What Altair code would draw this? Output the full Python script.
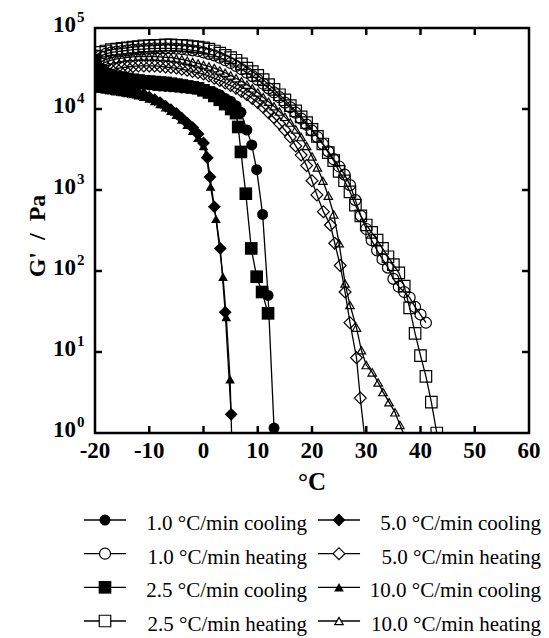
import altair as alt
import pandas as pd

# ---------------- data ----------------
SERIES = ["1.0 °C/min cooling", "1.0 °C/min heating", "2.5 °C/min cooling", "2.5 °C/min heating",
          "5.0 °C/min cooling", "5.0 °C/min heating", "10.0 °C/min cooling", "10.0 °C/min heating"]

T_1c = [-20, -19, -18, -17, -16, -15, -14, -13, -12, -11, -10, -9, -8, -7, -6, -5, -4, -3, -2, -1,
        0, 1, 2, 3, 4, 5, 6, 6.9, 8.0, 8.9, 9.8, 10.9, 11.9, 13.0]
G_1c = [24000, 23000, 22500, 22000, 21500, 21000, 20800, 20500, 20200, 20000,
        19800, 19500, 19200, 19000, 18800, 18500, 18200, 18000, 17800, 17500,
        17000, 16500, 16000, 15000, 13500, 12500, 11000, 9100, 5500, 3600, 1780, 500, 50, 1.15]

T_1h = [-20, -19, -18, -17, -16, -15, -14, -13, -12, -11, -10, -9, -8, -7, -6, -5, -4, -3, -2, -1,
        0, 1, 2, 3, 4, 5, 6, 7, 8, 9, 10, 11, 12, 13, 14, 15, 16, 17, 18, 19,
        20, 21, 22, 23, 24, 25, 26, 27, 28, 29, 30, 31, 32, 33, 34, 35, 36, 37, 38, 39, 40, 41]
G_1h = [40000, 45000, 48000, 50000, 51000, 52000, 53000, 54000, 54500, 55000,
        55500, 56000, 56000, 56000, 56000, 55500, 55000, 54000, 53000, 52000,
        50000, 48000, 46000, 43000, 40000, 37000, 34000, 31000, 28000, 25500,
        23000, 20500, 18000, 16000, 14000, 12000, 10500, 9000, 7600, 6400,
        5400, 4500, 3700, 3000, 2400, 1950, 1550, 1150, 750, 480,
        330, 240, 180, 140, 110, 80, 64, 55, 47, 36, 29, 23]

T_2c = [-20, -19, -18, -17, -16, -15, -14, -13, -12, -11, -10, -9, -8, -7, -6, -5, -4, -3, -2, -1,
        0, 1, 2, 3, 4, 5.1, 6.0, 6.4, 6.9, 7.8, 8.8, 9.8, 10.8, 11.9]
G_2c = [40000, 30000, 27000, 25500, 24500, 24000, 23500, 23000, 22500, 22000,
        21800, 21500, 21200, 21000, 20500, 20000, 19500, 19000, 18500, 18000,
        17000, 16000, 14500, 13000, 11500, 10000, 8900, 6000, 2950, 900, 190, 85, 55, 30]

T_2h = [-20, -19, -18, -17, -16, -15, -14, -13, -12, -11, -10, -9, -8, -7, -6, -5, -4, -3, -2, -1,
        0, 1, 2, 3, 4, 5, 6, 7, 8, 9, 10, 11, 12, 13, 14, 15, 16, 17, 18, 19,
        20, 21, 22, 23, 24, 25, 26, 27, 28, 29, 30, 31, 32, 33, 34, 35, 36, 37, 38, 39,
        40, 41, 42, 43]
G_2h = [45000, 50000, 52000, 54000, 55000, 56000, 57000, 58000, 59000, 60000,
        60000, 61000, 61000, 62000, 62000, 61000, 61000, 60000, 59000, 58000,
        57000, 55000, 52000, 49000, 46000, 43000, 40000, 36000, 32000, 29000,
        26000, 23000, 20000, 17500, 15000, 13000, 11000, 9500, 8000, 6800,
        5600, 4600, 3700, 2900, 2300, 1700, 1300, 950, 650, 480,
        370, 300, 240, 190, 150, 120, 95, 65, 35, 17,
        9, 5, 2.4, 1.0]

T_5c = [-20, -19, -18, -17, -16, -15, -14, -13, -12, -11, -10, -9, -8, -7, -6, -5, -4, -3, -2, -1,
        0, 0.7, 1.2, 2.0, 3.1, 4.0, 5.1]
G_5c = [19000, 18500, 18000, 17500, 17200, 16800, 16400, 16000, 15500, 15000,
        14000, 13000, 12000, 10800, 9800, 8800, 7700, 6700, 5900, 4900,
        3800, 2500, 1450, 620, 190, 31, 1.7]

T_5h = [-20, -19, -18, -17, -16, -15, -14, -13, -12, -11, -10, -9, -8, -7, -6, -5, -4, -3, -2, -1,
        0, 1, 2, 3, 4, 5, 6, 7, 8, 9, 10, 11, 12, 13, 14, 15, 16, 17, 18, 19,
        20, 20.9, 22.1, 23.4, 24.2, 25.2, 26.1, 27.0, 28.2, 28.9, 30.0]
G_5h = [24000, 27000, 29000, 30500, 31500, 32500, 33000, 33500, 34000, 34000,
        34000, 34000, 33500, 33000, 32500, 32000, 31000, 30000, 29000, 28000,
        27000, 25500, 24000, 22500, 21000, 19500, 18000, 16500, 15000, 13500,
        12000, 10500, 9000, 7800, 6600, 5500, 4500, 3500, 2700, 2000,
        1300, 870, 540, 370, 220, 117, 55, 23, 8.5, 2.7, 0.6]

T_10c = [-20, -19, -18, -17, -16, -15, -14, -13, -12, -11, -10, -9, -8, -7, -6, -5, -4, -3, -2, -1,
         0, 0.5, 1.3, 2.3, 3.6, 4.2, 4.9, 5.3]
G_10c = [18000, 17800, 17400, 17000, 16600, 16200, 15800, 15300, 14800, 14200,
         13500, 12500, 11500, 10500, 9500, 8500, 7400, 6400, 5400, 4400,
         3500, 2800, 1100, 440, 85, 27, 4.6, 0.5]

T_10h = [-20, -19, -18, -17, -16, -15, -14, -13, -12, -11, -10, -9, -8, -7, -6, -5, -4, -3, -2, -1,
         0, 1, 2, 3, 4, 5, 6, 7, 8, 9, 10, 11, 12, 13, 14, 15, 16, 17, 18, 19,
         20, 21, 22, 23, 24, 25, 26.1, 27.0, 28.2, 29.1, 30.0, 31.1, 32.2, 33.1, 34.2, 35.3, 36.2, 37.3]
G_10h = [30000, 35000, 38000, 40000, 41500, 42500, 43500, 44000, 44500, 44500,
         44500, 44500, 44000, 43500, 43000, 42000, 41000, 39500, 38000, 36500,
         35000, 33500, 32000, 30000, 28000, 26000, 24000, 22000, 20000, 18000,
         16000, 14000, 12300, 10800, 9300, 8000, 6800, 5600, 4500, 3500,
         2600, 1900, 1300, 850, 500, 220, 70, 38, 20, 10.5, 6.9, 5.6, 4.2, 3.2, 2.4, 1.8, 1.26, 0.85]

X_TICKS = [-20, -10, 0, 10, 20, 30, 40, 50, 60]
X_LABELS = ["-20", "-10", "0", "10", "20", "30", "40", "50", "60"]
Y_TICKS = [1, 10, 100, 1000, 10000, 100000]
Y_BASE = ["10", "10", "10", "10", "10", "10"]
Y_EXP = ["0", "1", "2", "3", "4", "5"]
X_TITLE = "°C"
Y_TITLE = "G'\u2002/\u2002Pa"

LEG_COL = [0, 0, 0, 0, 1, 1, 1, 1]
LEG_ROW = [0, 1, 2, 3, 0, 1, 2, 3]

# ---------------- styles ----------------
SHAPES = ["circle", "circle", "square", "square", "diamond", "diamond", "triangle-up", "triangle-up"]
FILLED = [True, False, True, False, True, False, True, False]
SIZES = [121, 121, 160, 132, 165, 140, 95, 72]

FONT = "Liberation Serif"
W, H = 434, 405

T_ALL = [T_1c, T_1h, T_2c, T_2h, T_5c, T_5h, T_10c, T_10h]
G_ALL = [G_1c, G_1h, G_2c, G_2h, G_5c, G_5h, G_10c, G_10h]
frames = [pd.DataFrame({"series": n, "T": t, "G": g}) for n, t, g in zip(SERIES, T_ALL, G_ALL)]
df = pd.concat(frames, ignore_index=True)

xsc = alt.Scale(domain=[-20, 60], nice=False, zero=False)
ysc = alt.Scale(type="log", domain=[1, 100000], nice=False)
X = alt.X("T:Q", scale=xsc, axis=None)
Y = alt.Y("G:Q", scale=ysc, axis=None)

lines = alt.Chart(df).mark_line(color="black", strokeWidth=1.3, clip=True).encode(
    x=X, y=Y, detail="series:N", order="T:Q")

pts = []
for name, shp, fl, sz in zip(SERIES, SHAPES, FILLED, SIZES):
    pts.append(
        alt.Chart(df).transform_filter(alt.datum.series == name).mark_point(
            shape=shp, size=sz, filled=fl, color="black", strokeWidth=1.2,
            opacity=1, clip=True).encode(x=X, y=Y))

xt = pd.DataFrame({"T": X_TICKS[1:-1]})
yt = pd.DataFrame({"G": Y_TICKS[1:-1]})
tick_style = dict(color="black", strokeWidth=2.5)
xtick_top = alt.Chart(xt).mark_rule(**tick_style).encode(x=X, y=alt.value(0), y2=alt.value(7))
xtick_bot = alt.Chart(xt).mark_rule(**tick_style).encode(x=X, y=alt.value(H), y2=alt.value(H - 7))
ytick_l = alt.Chart(yt).mark_rule(**tick_style).encode(y=Y, x=alt.value(0), x2=alt.value(7))
ytick_r = alt.Chart(yt).mark_rule(**tick_style).encode(y=Y, x=alt.value(W), x2=alt.value(W - 7))

xl = pd.DataFrame({"T": X_TICKS, "lab": X_LABELS})
xlab = alt.Chart(xl).mark_text(font=FONT, fontSize=23, fontWeight="bold", align="center",
                               baseline="alphabetic").encode(x=X, y=alt.value(H + 25), text="lab:N")

yl = pd.DataFrame({"G": Y_TICKS, "base": Y_BASE, "exp": Y_EXP})
ylab_base = alt.Chart(yl).mark_text(font=FONT, fontSize=23, fontWeight="bold", align="right",
                                    baseline="alphabetic", dy=4).encode(
    y=Y, x=alt.value(-19), text="base:N")
ylab_exp = alt.Chart(yl).mark_text(font=FONT, fontSize=15, fontWeight="bold", align="left",
                                   baseline="alphabetic", dy=-6).encode(
    y=Y, x=alt.value(-18), text="exp:N")

xtitle = alt.Chart(pd.DataFrame({"t": [X_TITLE]})).mark_text(
    font=FONT, fontSize=25, fontWeight="bold", align="center", baseline="alphabetic").encode(
    x=alt.value(W / 2), y=alt.value(H + 57), text="t:N")
ytitle = alt.Chart(pd.DataFrame({"t": [Y_TITLE]})).mark_text(
    font=FONT, fontSize=24, fontWeight="bold", align="center", baseline="alphabetic", angle=270).encode(
    x=alt.value(-50), y=alt.value(208), text="t:N")

main = alt.layer(lines, *pts, xtick_top, xtick_bot, ytick_l, ytick_r,
                 xlab, ylab_base, ylab_exp, xtitle, ytitle)

# ---------------- legend ----------------
leg = pd.DataFrame({"label": SERIES, "col": LEG_COL, "row": LEG_ROW})
lxs = alt.Scale(domain=[0, 1], range=[10, 244], nice=False, zero=False)
lys = alt.Scale(domain=[0, 3], range=[492, 593], nice=False, zero=False)
LY = alt.Y("row:Q", scale=lys, axis=None)

leg_rule = alt.Chart(leg).transform_calculate(
    a="datum.col - 0.09", b="datum.col + 0.09").mark_rule(color="black", strokeWidth=1.3).encode(
    x=alt.X("a:Q", scale=lxs, axis=None), x2="b:Q", y=LY)

leg_pts = []
for name, shp, fl, sz in zip(SERIES, SHAPES, FILLED, SIZES):
    leg_pts.append(
        alt.Chart(leg).transform_filter(alt.datum.label == name).mark_point(
            shape=shp, size=sz, filled=fl, color="black", strokeWidth=1.2, opacity=1,
            fill="black" if fl else "white").encode(
            x=alt.X("col:Q", scale=lxs, axis=None), y=LY))

leg_text = alt.Chart(leg).transform_calculate(tx="datum.col + 0.8632").mark_text(
    font=FONT, fontSize=21, align="right", baseline="alphabetic", dy=10).encode(
    x=alt.X("tx:Q", scale=lxs, axis=None), y=LY, text="label:N")

legend = alt.layer(leg_rule, *leg_pts, leg_text)

chart = alt.layer(main, legend).resolve_scale(x="independent", y="independent").properties(
    width=W, height=H,
    autosize=alt.AutoSizeParams(type="none"),
    padding={"left": 87, "top": 20, "right": 12, "bottom": 205},
).configure_view(stroke="black", strokeWidth=2.5)

chart.save("out.html", embed_options={"renderer": "svg", "actions": False})
